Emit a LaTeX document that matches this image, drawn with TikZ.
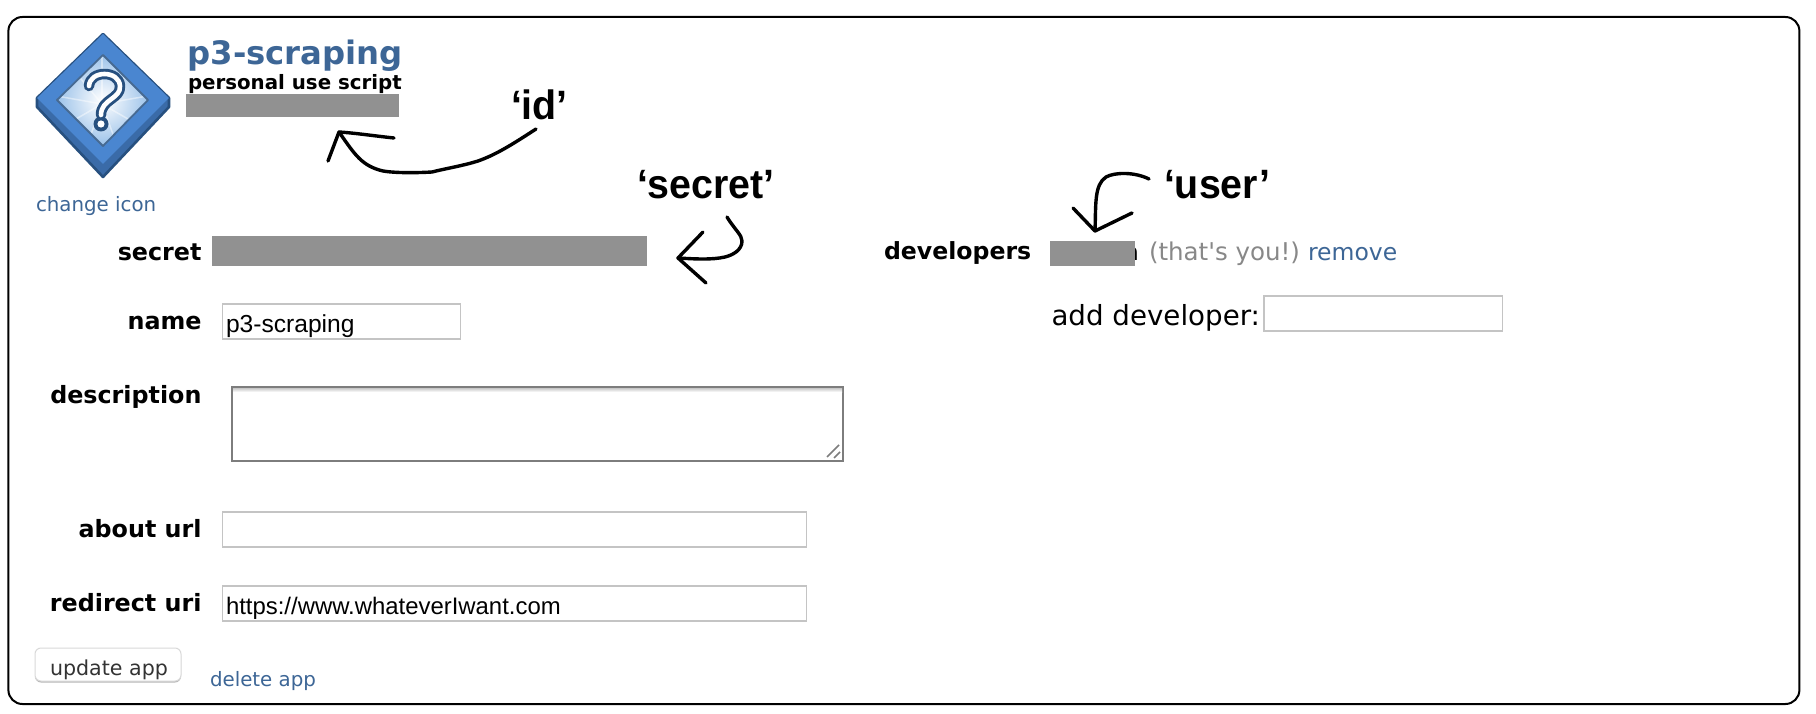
\documentclass[tikz,border=0pt]{standalone}
\usepackage{fontspec}
\setmainfont{DejaVu Sans}
\newfontfamily\plainfont{DejaVu Sans}
\newfontfamily\annofont[FakeStretch=0.96]{Liberation Sans}
\newfontfamily\fieldfont{Liberation Sans}
\usetikzlibrary{shadings}
\definecolor{linkblue}{HTML}{3D6696}
\definecolor{barcol}{HTML}{919191}
\definecolor{inputcol}{HTML}{C4C4C4}
\definecolor{areacol}{HTML}{7D7D7D}
\definecolor{thatcol}{HTML}{888888}
\definecolor{iconface}{HTML}{4A86D0}
\definecolor{iconside}{HTML}{3A6BA8}
\definecolor{icondark}{HTML}{27507F}
\definecolor{iconlight}{HTML}{8DB9E6}
\newcommand{\fs}[1]{\fontsize{#1}{#1}\selectfont}
\tikzset{
  every node/.style={inner sep=0pt, outer sep=0pt},
  frame/.style={draw=black, line width=2pt, rounded corners=14pt, anchor=north west},
  bar/.style={fill=barcol, anchor=north west},
  inputbox/.style={draw=inputcol, line width=1.1pt, fill=white, anchor=north west},
  formlabel/.style={anchor=base east, font=\bfseries\fs{23.8}},
  linktext/.style={anchor=base west, text=linkblue, font=\fs{19.8}},
  fieldtext/.style={anchor=base west, font=\fieldfont\fs{23.9}},
  anno/.style={anchor=base west, font=\annofont\bfseries\fs{41}},
  hand/.style={draw=black, line width=3.4pt, line cap=round, line join=round},
}
\begin{document}
\begin{tikzpicture}[x=1pt,y=-1pt]
\useasboundingbox (0,0) rectangle (1816,714);
\fill[white] (0,0) rectangle (1816,714);
\node[frame, minimum width=1791pt, minimum height=687pt] (panel) at (8.4,17) {};

% icon
\begin{scope}[line join=round]
  \fill[iconside, draw=icondark, line width=2.6pt] (37,98) -- (103,34) -- (169,98) -- (169,107) -- (103,177) -- (37,107) -- cycle;
  \fill[iconface] (37,98) -- (103,34) -- (169,98) -- (103,164) -- cycle;
  \begin{scope}
    \clip (57,100) -- (103,55) -- (148,100) -- (103,146) -- cycle;
    \shade[inner color=white, outer color=iconlight] (50,48) rectangle (156,152);
    \foreach \a in {10,50,...,350} {
      \draw[white, opacity=0.45, line width=1.5pt] (102,104) -- ++(\a:60pt);
    }
  \end{scope}
  \draw[icondark!85!white, line width=1.8pt] (57,100) -- (103,55) -- (148,100) -- (103,146) -- cycle;
  \draw[icondark, line width=10.5pt, line cap=round] (89,86) .. controls (90,70) and (119,70) .. (120,86) .. controls (121,99) and (101,99) .. (101,115);
  \fill[icondark] (101,124) circle (7.5pt);
  \draw[white, line width=4.6pt, line cap=round] (89,86) .. controls (90,70) and (119,70) .. (120,86) .. controls (121,99) and (101,99) .. (101,115);
  \fill[white] (101,124) circle (3.6pt);
\end{scope}

% heading
\node[anchor=base west, text=linkblue, font=\bfseries\fs{32.3}] (title) at (187.5,64.5) {p3-scraping};
\node[anchor=base west, font=\bfseries\fs{19.8}] (kind) at (188,90) {personal use script};
\node[bar, minimum width=213pt, minimum height=23pt] (idbar) at (186,94) {};
\node[linktext] (changeicon) at (36,212) {change icon};

% form labels
\node[formlabel] (lsecret) at (201.5,260.5) {secret};
\node[formlabel] (lname) at (201.5,329) {name};
\node[formlabel] (ldesc) at (201.5,403.5) {description};
\node[formlabel] (labout) at (201.5,537.5) {about url};
\node[formlabel] (lredir) at (201.5,611.5) {redirect uri};

% secret bar
\node[bar, minimum width=435pt, minimum height=30pt] (secretbar) at (212,236) {};

% inputs
\node[inputbox, minimum width=238pt, minimum height=35pt] (namebox) at (222.5,304) {};
\node[fieldtext, font=\fieldfont\fs{24.6}] (nametext) at (226,332.5) {p3-scraping};

\node[draw=areacol, line width=2pt, fill=white, anchor=north west, minimum width=611pt, minimum height=74pt] (descbox) at (232,387) {};
\shade[top color=black!22, bottom color=white] (233,388) rectangle (842,392);
\coordinate (ha) at (827,457); \coordinate (hb) at (839,445);
\coordinate (hc) at (834,458); \coordinate (hd) at (840,452);
\draw[areacol, line width=1.6pt] (ha) -- (hb) (hc) -- (hd);

\node[inputbox, minimum width=584pt, minimum height=35pt] (aboutbox) at (222.5,512) {};
\node[inputbox, minimum width=584pt, minimum height=35pt] (redirbox) at (222.5,586) {};
\node[fieldtext] (redirtext) at (226,614) {https://www.whateverIwant.com};

% buttons
\fill[black!28, rounded corners=6pt] (35,650) rectangle (181,682.5);
\node[draw=black!15, line width=1pt, fill=white, rounded corners=6pt, anchor=north west, minimum width=146pt, minimum height=33pt] (updatebtn) at (35,648) {};
\node[anchor=base west, text=black!80, font=\fs{20.6}] (updatetext) at (50,675) {update app};
\node[linktext] (deleteapp) at (210,686) {delete app};

% developers
\node[anchor=base west, font=\bfseries\fs{23.6}] (ldev) at (884,260) {developers};
\node[anchor=base east, font=\fs{24}] (usertail) at (1139,260.5) {a};
\node[bar, minimum width=85pt, minimum height=25pt] (userbar) at (1050,241) {};
\node[anchor=base west, text=thatcol, font=\plainfont\fs{24.5}] (thatsyou) at (1149,260.5) {(that's you!)};
\node[anchor=base west, text=linkblue, font=\fs{23.5}] (remove) at (1308,260.5) {remove};
\node[anchor=base west, font=\fs{27.7}] (adddev) at (1051.5,325) {add developer:};
\node[inputbox, minimum width=238.5pt, minimum height=35pt] (devbox) at (1264,296) {};

% annotations
\node[anno] (aid) at (511,119.5) {‘id’};
\node[anno] (asecret) at (637,199) {‘secret’};
\node[anno] (auser) at (1164,199) {‘user’};

% id arrow
\coordinate (ids) at (536,129); \coordinate (idt) at (339,132);
\coordinate (idh1) at (328,161); \coordinate (idh2) at (394,138);
\draw[hand] (ids) .. controls (510,146) and (495,155) .. (478,161)
  .. controls (462,166) and (448,168) .. (432,172)
  .. controls (415,173) and (395,173) .. (383,171)
  .. controls (362,166) and (355,155) .. (idt);
\draw[hand] (idh1) -- (idt) .. controls (355,133) and (375,136) .. (idh2);

% secret arrow
\coordinate (ses) at (727,217); \coordinate (set) at (678,258);
\coordinate (seh1) at (703,232); \coordinate (seh2) at (706,283);
\draw[hand] (ses) .. controls (735,230) and (742,235) .. (742,241)
  .. controls (742,250) and (733,255) .. (725,257)
  .. controls (712,260) and (695,259) .. (set);
\draw[hand] (seh1) -- (set) -- (seh2);

% user arrow
\coordinate (uss) at (1149,179); \coordinate (ust) at (1095,231);
\coordinate (ush1) at (1073,208); \coordinate (ush2) at (1132,213);
\draw[hand] (uss) .. controls (1135,172) and (1115,172) .. (1106,177)
  .. controls (1094,185) and (1096,205) .. (ust);
\draw[hand] (ush1) -- (ust) -- (ush2);
\end{tikzpicture}
\end{document}
